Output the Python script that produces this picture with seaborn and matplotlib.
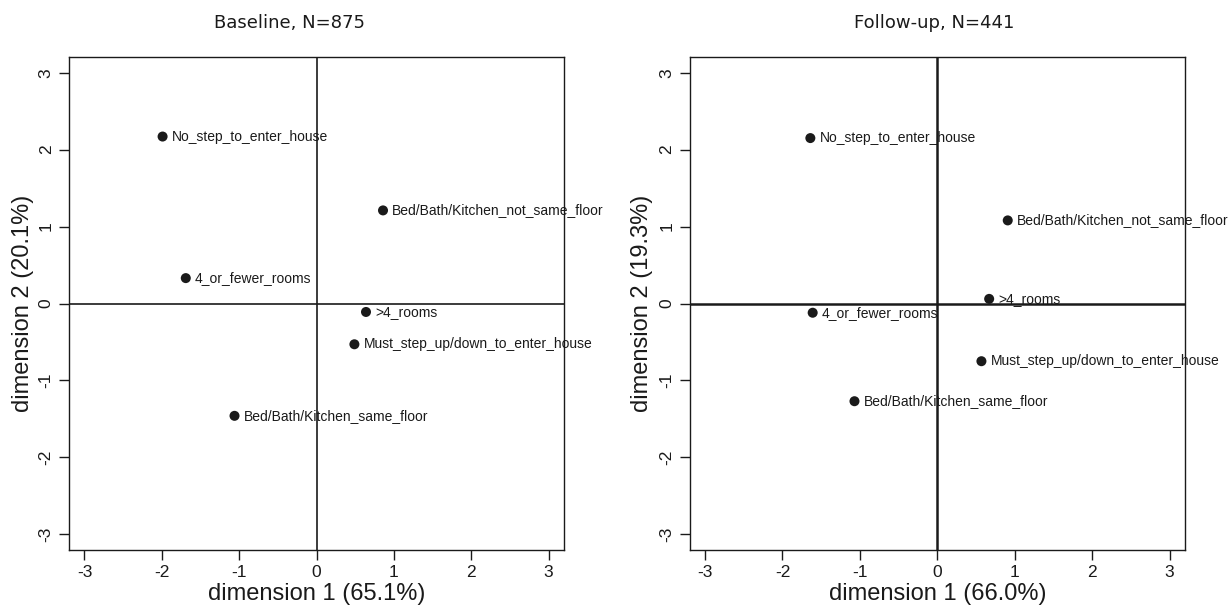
import matplotlib
matplotlib.use("Agg")
import matplotlib.pyplot as plt
import seaborn as sns
import pandas as pd

categories = ["No_step_to_enter_house", "Bed/Bath/Kitchen_not_same_floor", "4_or_fewer_rooms",
              ">4_rooms", "Must_step_up/down_to_enter_house", "Bed/Bath/Kitchen_same_floor"]

baseline_dim1 = [-1.99, 0.86, -1.69, 0.64, 0.49, -1.06]
baseline_dim2 = [2.17, 1.21, 0.33, -0.11, -0.53, -1.46]

followup_dim1 = [-1.64, 0.91, -1.61, 0.67, 0.57, -1.07]
followup_dim2 = [2.15, 1.08, -0.12, 0.06, -0.75, -1.27]

titles = ["Baseline, N=875", "Follow-up, N=441"]
xlabels = ["dimension 1 (65.1%)", "dimension 1 (66.0%)"]
ylabels = ["dimension 2 (20.1%)", "dimension 2 (19.3%)"]
ticks = [-3, -2, -1, 0, 1, 2, 3]

sns.set_style("ticks")
plt.rcParams['font.family'] = ['Liberation Sans', 'DejaVu Sans']

fig = plt.figure(figsize=(12.28, 6.06), dpi=100)
W, H = 1228, 606
boxes = [(69, 564), (689.6, 1185)]
top, bottom = 57.3, 549.7
title_x = [290, 934]
zero_lw = [1.2, 1.8]

panels = [(baseline_dim1, baseline_dim2), (followup_dim1, followup_dim2)]
for i, (d1, d2) in enumerate(panels):
    l, r = boxes[i]
    ax = fig.add_axes([l / W, 1 - bottom / H, (r - l) / W, (bottom - top) / H])
    df = pd.DataFrame({"dim1": d1, "dim2": d2, "label": categories})
    ax.axhline(0, color="#1a1a1a", lw=zero_lw[i], zorder=1)
    ax.axvline(0, color="#1a1a1a", lw=zero_lw[i], zorder=1)
    sns.scatterplot(data=df, x="dim1", y="dim2", ax=ax, color="#1a1a1a",
                    s=52, edgecolor="none", zorder=3)
    for _, row in df.iterrows():
        ax.annotate(row["label"], (row["dim1"], row["dim2"]), xytext=(6.5, 0),
                    textcoords="offset points", va="center", ha="left",
                    fontsize=10, color="#1a1a1a", family="Liberation Sans")
    ax.set_xlim(-3.2, 3.2)
    ax.set_ylim(-3.2, 3.2)
    ax.set_xticks(ticks)
    ax.set_yticks(ticks)
    ax.set_xticklabels([str(t) for t in ticks])
    ax.set_yticklabels([str(t) for t in ticks], rotation=90, va="center")
    ax.tick_params(axis="both", direction="out", length=7, width=1, color="#1a1a1a",
                   labelsize=12.5, labelcolor="#1a1a1a", pad=4)
    for sp in ax.spines.values():
        sp.set_linewidth(1.0)
        sp.set_color("#1a1a1a")
    ax.set_xlabel(xlabels[i], fontsize=17, color="#1a1a1a")
    ax.set_ylabel(ylabels[i], fontsize=17, color="#1a1a1a")
    axw = r - l
    axh = bottom - top
    ax.xaxis.set_label_coords(0.5, -(593.7 - bottom) / axh)
    ax.xaxis.label.set_va("center")
    ax.yaxis.set_label_coords(-(l - (23 if i == 0 else 642)) / axw, 0.5)
    ax.yaxis.label.set_va("center")
    fig.text(title_x[i] / W, 1 - 23 / H, titles[i], ha="center", va="center",
             fontsize=13, family="DejaVu Sans", color="#1a1a1a")

fig.savefig("out.png", dpi=100, facecolor="white")
